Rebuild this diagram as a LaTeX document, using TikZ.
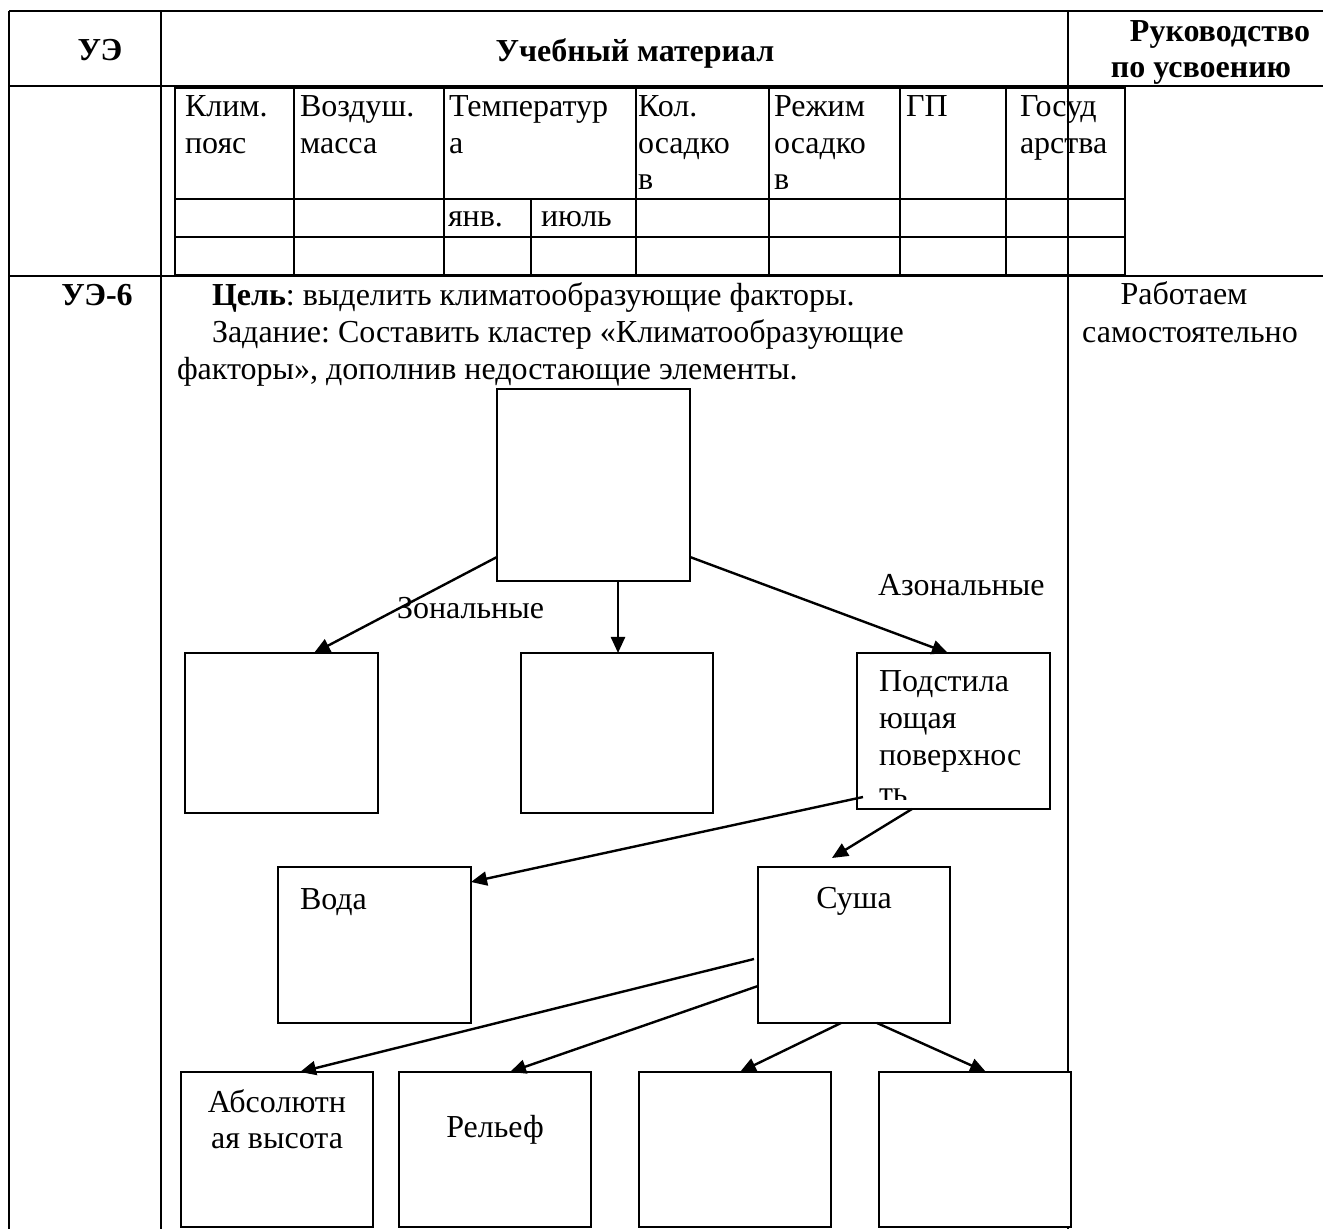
\documentclass[tikz,border=0pt]{standalone}
\usepackage{fontspec}
\setmainfont{Liberation Serif}
\usetikzlibrary{arrows.meta,calc}
\newcommand{\mlleft}[1]{\begin{tabular}[t]{@{}l@{}}#1\end{tabular}}
\newcommand{\mlcent}[1]{\begin{tabular}[t]{@{}c@{}}#1\end{tabular}}
\frenchspacing
\begin{document}
\begin{tikzpicture}[x=0.5pt,y=-0.5pt,
  every node/.style={font=\fontsize{16}{18.25}\selectfont, inner sep=0pt, outer sep=0pt},
  rule/.style={line width=1.25pt},
  box/.style={draw, line width=1.1pt, fill=white},
  conn/.style={line width=1.2pt, -{Triangle[length=8pt,width=7pt]}},
  txt/.style={anchor=base west},
  ctxt/.style={anchor=base},
  hd/.style={anchor=base, font=\bfseries\fontsize{16}{18.25}\selectfont}]
\useasboundingbox (0,0) rectangle (1323,1229);
% outer table
\draw[rule] (9,11) -- (1323,11);
\draw[rule] (9,86) -- (1323,86);
\draw[rule] (9,276) -- (1323,276);
\draw[rule] (9,11) -- (9,1229);
\draw[rule] (161,11) -- (161,1229);
\draw[rule] (1068,11) -- (1068,1229);
% inner table
\draw[rule] (175,88) rectangle (1125,275);
\draw[rule] (175,199) -- (1125,199);
\draw[rule] (175,237) -- (1125,237);
\foreach \x in {294,444,636,769,900,1006} \draw[rule] (\x,88) -- (\x,275);
\draw[rule] (531,199) -- (531,275);
% header texts
\node[hd] (h1) at (100,61) {УЭ};
\node[hd] (h2) at (635,62) {Учебный материал};
\node[hd] (h3) at (1220,42) {Руководство};
\node[hd] (h4) at (1201,78) {по усвоению};
% inner table texts
\node[txt] (c1) at (185,117) {\mlleft{Клим.\\пояс}};
\node[txt] (c2) at (300,117) {\mlleft{Воздуш.\\масса}};
\node[txt] (c3) at (449,117) {\mlleft{Температур\\а}};
\node[txt] (c4) at (638,117) {\mlleft{Кол.\\осадко\\в}};
\node[txt] (c5) at (774,117) {\mlleft{Режим\\осадко\\в}};
\node[txt] (c6) at (906,117) {ГП};
\node[txt] (c7) at (1020,117) {\mlleft{Госуд\\арства}};
\node[txt] (c8) at (448,227) {янв.};
\node[txt] (c9) at (541,227) {июль};
% row UE-6
\node[hd] (u6) at (97,306) {УЭ-6};
\node[txt] (l1) at (212,306) {\textbf{Цель}: выделить климатообразующие факторы.};
\node[txt] (l2) at (212,343) {Задание: Составить кластер «Климатообразующие};
\node[txt] (l3) at (177,380) {факторы», дополнив недостающие элементы.};
\node[ctxt] (r1) at (1184,305) {Работаем};
\node[ctxt] (r2) at (1190,343) {самостоятельно};
% boxes
\node[box, minimum width=96.5pt, minimum height=96pt] (top) at (593.5,485) {};
\node[box, minimum width=96.5pt, minimum height=80pt] (b1) at (281.5,733) {};
\node[box, minimum width=96pt, minimum height=80pt] (b2) at (617,733) {};
\node[box, minimum width=96.5pt, minimum height=78pt] (ps) at (953.5,731) {};
\node[box, minimum width=96.5pt, minimum height=78pt] (voda) at (374.5,945) {};
\node[box, minimum width=96pt, minimum height=78pt] (su) at (854,945) {};
\node[box, minimum width=96pt, minimum height=77.5pt] (abs) at (277,1149.5) {};
\node[box, minimum width=96pt, minimum height=77.5pt] (rel) at (495,1149.5) {};
\node[box, minimum width=96pt, minimum height=77.5pt] (b3) at (735,1149.5) {};
\node[box, minimum width=96pt, minimum height=77.5pt] (b4) at (975,1149.5) {};
% box texts
\node[txt] (pst) at (879,692) {\mlleft{Подстила\\ющая\\поверхнос}};
\begin{scope}
\clip (857,780) rectangle (1050,799);
\node[txt] (pst4) at (879,803) {ть};
\end{scope}
\node[txt] (vt) at (300,909) {Вода};
\node[ctxt] (st) at (854,908) {Суша};
\node[ctxt] (at) at (277,1112) {\mlcent{Абсолютн\\ая высота}};
\node[ctxt] (rt) at (495,1137) {Рельеф};
% labels
\node[txt] (zl) at (397,619) {Зональные};
\node[txt] (azl) at (878,596) {Азональные};
% connectors
\draw[conn] ($(top.south west)+(0,-24)$) -- ($(b1.north west)+(129,0)$);
\draw[conn] ($(top.south west)+(121,0)$) -- ($(b2.north west)+(97,0)$);
\draw[conn] ($(top.south east)+(0,-24)$) -- ($(ps.north west)+(91,0)$);
\draw[conn] ($(ps.south west)+(6,-12)$) -- ($(voda.north east)+(0,15)$);
\draw[conn] ($(ps.south west)+(55,0)$) -- ($(su.north west)+(74,-9)$);
\draw[conn] ($(su.north west)+(-4,92)$) -- ($(abs.north west)+(119,0)$);
\draw[conn] ($(su.north west)+(0,119)$) -- ($(rel.north west)+(111,0)$);
\draw[conn] ($(su.south west)+(83,0)$) -- ($(b3.north west)+(101,0)$);
\draw[conn] ($(su.south west)+(119,0)$) -- ($(b4.north west)+(107,0)$);
\end{tikzpicture}
\end{document}
